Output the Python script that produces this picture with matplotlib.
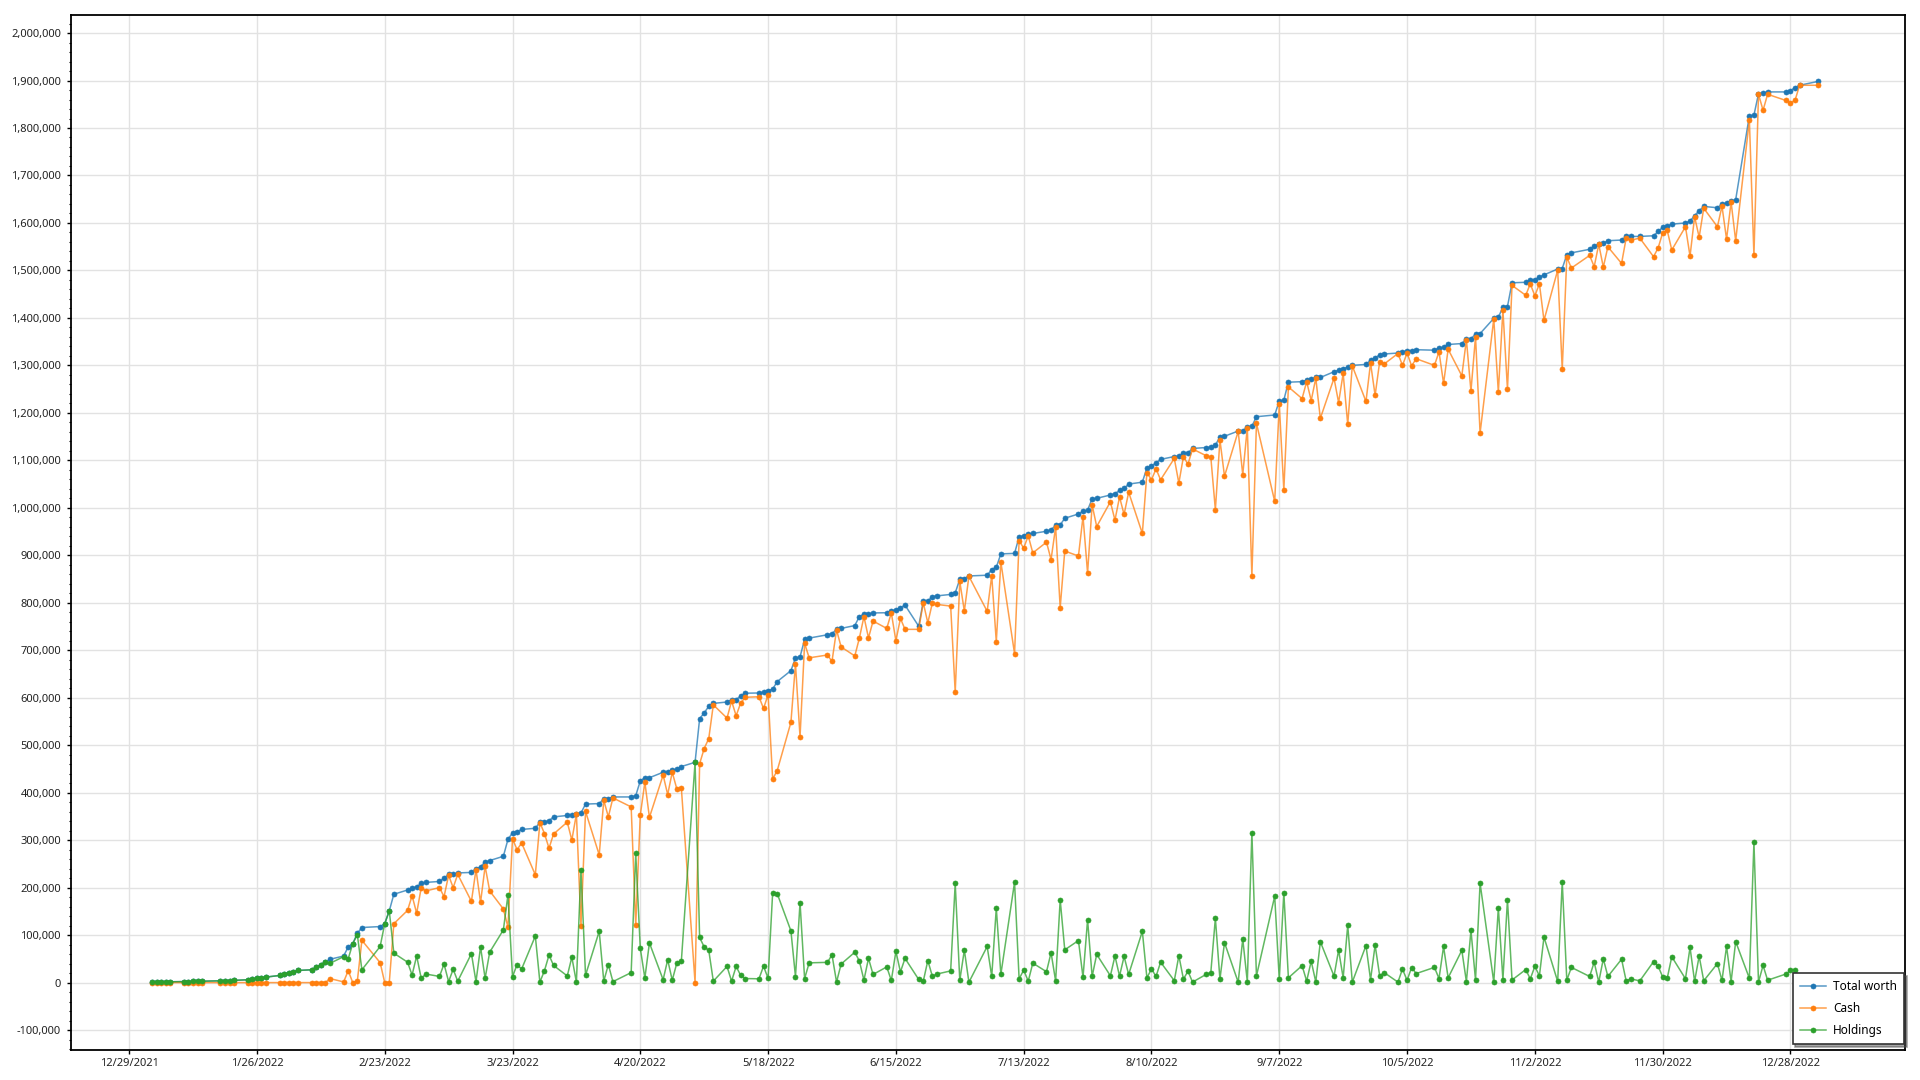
import matplotlib
matplotlib.use("Agg")
import matplotlib.pyplot as plt
import matplotlib.ticker as mticker
import pandas as pd

# ---------------- data ----------------
holidays = ["2022-01-17", "2022-02-21", "2022-04-15", "2022-05-30", "2022-07-04",
            "2022-09-05", "2022-10-10", "2022-11-11", "2022-11-24", "2022-12-26"]
dates = pd.bdate_range("2022-01-03", "2022-12-30", freq="C", holidays=holidays).append(
    pd.DatetimeIndex(["2023-01-03"]))

total_worth = [
    1200, 1300, 1400, 1500, 1600,
    2000, 2200, 2400, 2500, 2600,
    3800, 4000, 4300, 4600,
    6000, 7400, 8800, 10000, 11600,
    15000, 18500, 21000, 22500, 25500,
    27000, 32000, 38000, 43000, 49000,
    56000, 75000, 82000, 104000, 116000,
    118000, 124000, 151000, 186000,
    195000, 199000, 202000, 209000, 211000,
    213000, 220000, 228000, 228000, 231000,
    232000, 240000, 244000, 254000, 257000,
    266000, 301500, 315600, 317700, 322600,
    325000, 338000, 339000, 341000, 349000,
    352000, 353500, 356000, 357000, 376000,
    377000, 387000, 387000, 391000,
    391000, 393600, 425000, 431500, 431500,
    443000, 444000, 448000, 449000, 455000,
    464000, 556000, 568000, 582000, 588000,
    591000, 596000, 596000, 604000, 609500,
    610000, 612000, 615000, 618000, 634000,
    657000, 683500, 686000, 723000, 725600,
    732600, 735000, 744000, 746000,
    752000, 771000, 776000, 777000, 778600,
    779000, 783000, 785600, 789500, 795000,
    750600, 802800, 804000, 813000, 814500,
    817600, 820700, 849500, 851000, 856500,
    858000, 870000, 874700, 903000,
    904000, 938700, 941400, 944000, 946000,
    950600, 954000, 963000, 964000, 978000,
    987000, 992600, 995000, 1019000, 1020000,
    1027000, 1030000, 1036500, 1041000, 1050000,
    1054000, 1084000, 1087700, 1095000, 1102000,
    1108000, 1108700, 1115000, 1116000, 1125000,
    1127000, 1128000, 1131500, 1150000, 1150700,
    1161700, 1161700, 1170800, 1171700, 1191900,
    1195500, 1225000, 1227000, 1264600,
    1265700, 1269000, 1271000, 1274500, 1274500,
    1286600, 1290000, 1293000, 1296500, 1300000,
    1302000, 1311000, 1316000, 1322000, 1324000,
    1326000, 1328500, 1330700, 1330700, 1333000,
    1332000, 1337000, 1338000, 1344000,
    1346000, 1356000, 1356000, 1366000, 1367000,
    1399000, 1401000, 1423000, 1424000, 1474000,
    1475000, 1479600, 1480600, 1486000, 1490600,
    1503000, 1504000, 1533000, 1537000,
    1544500, 1551000, 1556000, 1557000, 1562600,
    1564000, 1571600, 1571600, 1571600,
    1573000, 1582000, 1591000, 1593500, 1597400,
    1600000, 1604000, 1615500, 1625800, 1634800,
    1632000, 1640000, 1642000, 1646000, 1649000,
    1825800, 1827000, 1872000, 1873500, 1876000,
    1876000, 1878700, 1885000, 1890000,
    1898000,
]

cash = [
    0, 0, 0, 0, 0,
    0, 0, 0, 0, 0,
    0, 0, 0, 0,
    0, 0, 0, 0, 0,
    0, 0, 0, 0, 0,
    0, 0, 0, 0, 8500,
    1400, 25000, 0, 3000, 89000,
    42000, 0, 0, 124000,
    152000, 183000, 146000, 200000, 193000,
    200000, 181000, 226000, 200000, 228000,
    171000, 238000, 169000, 245000, 193000,
    155000, 117000, 303000, 280000, 294000,
    227000, 337000, 314000, 283000, 313000,
    338000, 300000, 355000, 120000, 360500,
    269000, 384000, 349000, 389000,
    370000, 121600, 353000, 422000, 348000,
    437000, 396000, 443000, 408000, 409000,
    0, 461000, 493000, 514000, 585000,
    557000, 593000, 562000, 589000, 601000,
    602000, 577500, 606000, 428700, 446600,
    548000, 671000, 517500, 714700, 684000,
    690000, 676500, 742800, 707000,
    688000, 725600, 770800, 726000, 761500,
    746000, 778600, 720000, 767000, 744000,
    744000, 800000, 757600, 800000, 796500,
    793000, 611800, 845000, 782500, 855800,
    782000, 857000, 718000, 885700,
    692800, 931000, 915000, 941000, 905000,
    927700, 891000, 959700, 789700, 909000,
    898500, 981600, 862800, 1006000, 960600,
    1012700, 974000, 1022800, 986000, 1032800,
    946000, 1074000, 1059000, 1082000, 1059000,
    1104000, 1052000, 1107700, 1092000, 1124000,
    1109600, 1107000, 996000, 1143000, 1066600,
    1160800, 1070000, 1169000, 856000, 1178000,
    1013600, 1218000, 1037500, 1254600,
    1230000, 1265700, 1226000, 1273000, 1188500,
    1273000, 1221600, 1283000, 1176000, 1299000,
    1224000, 1305000, 1237000, 1307600, 1303000,
    1325000, 1300000, 1326000, 1299000, 1314000,
    1300000, 1328500, 1262000, 1334000,
    1278000, 1354000, 1246000, 1360500, 1157600,
    1398000, 1243600, 1416700, 1250000, 1468500,
    1447600, 1471800, 1446500, 1471800, 1394700,
    1500600, 1292000, 1528000, 1505000,
    1531600, 1508000, 1554800, 1507000, 1549700,
    1514800, 1567700, 1563800, 1568000,
    1529000, 1547000, 1579000, 1584500, 1543000,
    1592000, 1530000, 1613000, 1570000, 1631000,
    1592000, 1635500, 1566000, 1644000, 1562600,
    1816700, 1531600, 1871000, 1837400, 1871000,
    1858000, 1853000, 1858000, 1890000,
    1890000,
]

holdings = [
    1200, 1300, 1400, 1500, 1600,
    2000, 2200, 2400, 2500, 2600,
    3800, 4000, 4300, 4600,
    6000, 7400, 8800, 10000, 11600,
    15000, 18500, 21000, 22500, 25500,
    27000, 32000, 38000, 43000, 40500,
    54600, 50000, 82000, 101000, 27000,
    76000, 124000, 151000, 62000,
    43000, 16000, 56000, 9000, 18000,
    13000, 39000, 2000, 28000, 3000,
    61000, 2000, 75000, 9000, 64000,
    111000, 184500, 12600, 37700, 28600,
    98000, 1000, 25000, 58000, 36000,
    14000, 53500, 1000, 237000, 15500,
    108000, 3000, 38000, 2000,
    21000, 272000, 72000, 9500, 83500,
    6000, 48000, 5000, 41000, 46000,
    464000, 95000, 75000, 68000, 3000,
    34000, 3000, 34000, 15000, 8500,
    8000, 34500, 9000, 189300, 187400,
    109000, 12500, 168500, 8300, 41600,
    42600, 58500, 1200, 39000,
    64000, 45400, 5200, 51000, 17100,
    33000, 4400, 65600, 22500, 51000,
    6600, 2800, 46400, 13000, 18000,
    24600, 208900, 4500, 68500, 700,
    76000, 13000, 156700, 17300,
    211200, 7700, 26400, 3000, 41000,
    22900, 63000, 3300, 174300, 69000,
    88500, 11000, 132200, 13000, 59400,
    14300, 56000, 13700, 55000, 17200,
    108000, 10000, 28700, 13000, 43000,
    4000, 56700, 7300, 24000, 1000,
    17400, 21000, 135500, 7000, 84100,
    900, 91700, 1800, 315700, 13900,
    181900, 7000, 189500, 10000,
    35700, 3300, 45000, 1500, 86000,
    13600, 68400, 10000, 120500, 1000,
    78000, 6000, 79000, 14400, 21000,
    1000, 28500, 4700, 31700, 19000,
    32000, 8500, 76000, 10000,
    68000, 2000, 110000, 5500, 209400,
    1000, 157400, 6300, 174000, 5500,
    27400, 7800, 34100, 14200, 95900,
    2400, 212000, 5000, 32000,
    12900, 43000, 1200, 50000, 12900,
    49200, 3900, 7800, 3600,
    44000, 35000, 12000, 9000, 54400,
    8000, 74000, 2500, 55800, 3800,
    40000, 4500, 76000, 2000, 86400,
    9100, 295400, 1000, 36100, 5000,
    18000, 25700, 27000, 0,
    8000,
]

series_names = ["Total worth", "Cash", "Holdings"]
x_tick_labels = ["12/29/2021", "1/26/2022", "2/23/2022", "3/23/2022", "4/20/2022",
                 "5/18/2022", "6/15/2022", "7/13/2022", "8/10/2022", "9/7/2022",
                 "10/5/2022", "11/2/2022", "11/30/2022", "12/28/2022"]

# ---------------- figure ----------------
plt.rcParams["font.family"] = ["Noto Sans", "DejaVu Sans"]
W, H = 1920, 1080
fig = plt.figure(figsize=(19.2, 10.8), dpi=100)
fig.patch.set_facecolor("white")
L, R, T, B = 70.7, 1905, 15, 1050
ax = fig.add_axes([L / W, 1 - B / H, (R - L) / W, (B - T) / H])

colors = ["#1f77b4", "#ff7f0e", "#2ca02c"]
for vals, name, c in zip([total_worth, cash, holdings], series_names, colors):
    rgb = matplotlib.colors.to_rgb(c)
    ax.plot(dates, vals, color=(*rgb, 0.75), lw=1.1, marker="o", ms=3.6,
            markerfacecolor=c, markeredgecolor=c, markeredgewidth=0.5, label=name)

base = pd.Timestamp("2021-12-29")
ax.set_xlim(base - pd.Timedelta(days=12.8), base + pd.Timedelta(days=389.1))
tick_pos = [pd.Timestamp(f"{s.split('/')[2]}-{s.split('/')[0]}-{s.split('/')[1]}") for s in x_tick_labels]
ax.set_xticks(tick_pos)
ax.set_xticklabels(x_tick_labels)

ax.set_ylim(-142000, 2038000)
ax.yaxis.set_major_locator(mticker.MultipleLocator(100000))
ax.yaxis.set_minor_locator(mticker.MultipleLocator(20000))
ax.yaxis.set_major_formatter(mticker.FuncFormatter(lambda v, p: f"{int(round(v)):,}"))

ax.grid(True, which="major", color="#e2e2e2", lw=1.0)
ax.set_axisbelow(True)
for s in ax.spines.values():
    s.set_color("black")
    s.set_linewidth(1.3)

ax.tick_params(axis="both", which="major", labelsize=8, colors="black",
               labelcolor="#222222", length=3, width=1)
ax.tick_params(axis="y", which="minor", length=1.8, width=0.8, colors="black")
ax.tick_params(axis="y", which="major", pad=4)
ax.tick_params(axis="x", which="major", pad=3)

leg = ax.legend(loc="upper left", bbox_to_anchor=(1792.7 / W, 1 - 973 / H),
                bbox_transform=fig.transFigure, borderaxespad=0, frameon=True,
                fancybox=False, shadow=True, fontsize=8.5, handlelength=2.2,
                labelspacing=0.75, borderpad=0.6, handletextpad=0.6)
leg.get_frame().set_edgecolor("#333333")
leg.get_frame().set_linewidth(1.2)

fig.savefig("out.png", dpi=100, facecolor="white")
